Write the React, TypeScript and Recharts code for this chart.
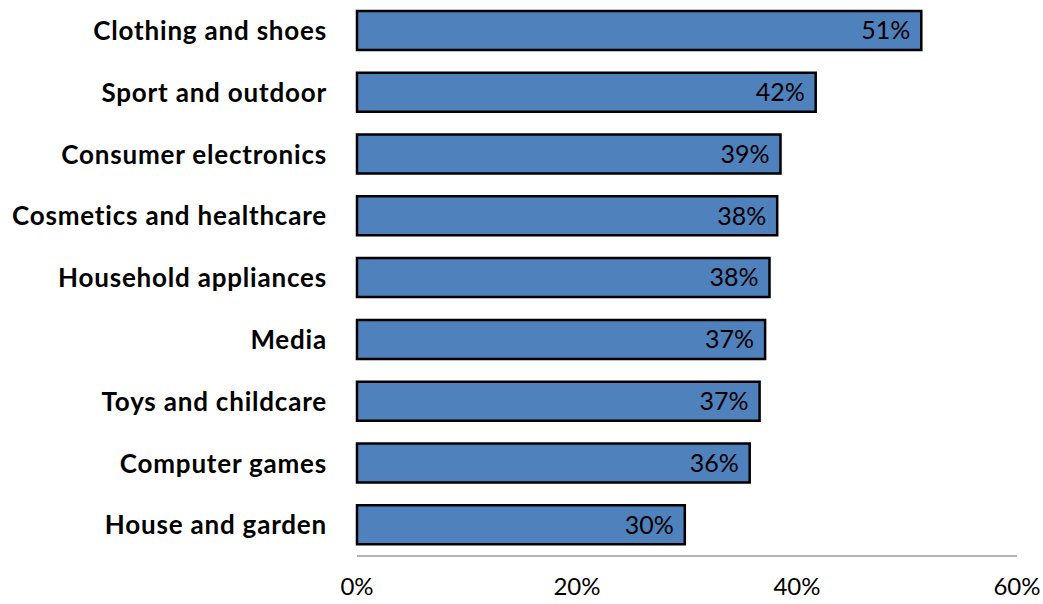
import React from 'react';
import { BarChart, Bar, XAxis, YAxis, LabelList } from 'recharts';

const categories = [
  'Clothing and shoes',
  'Sport and outdoor',
  'Consumer electronics',
  'Cosmetics and healthcare',
  'Household appliances',
  'Media',
  'Toys and childcare',
  'Computer games',
  'House and garden',
];
const shares = [51.3, 41.7, 38.5, 38.2, 37.5, 37.1, 36.6, 35.7, 29.8];
const xTicks = [0, 20, 40, 60];

const data = categories.map((name, i) => ({ name, value: shares[i] }));

const FONT = 'Lato, "Liberation Sans", sans-serif';

const App: React.FC = () => {
  return (
    <div style={{ position: 'absolute', left: 0, top: 0, background: '#fff' }}>
      <BarChart
        width={1043}
        height={604}
        data={data}
        layout="vertical"
        margin={{ top: 0, right: 26, bottom: 0, left: 0 }}
      >
        <XAxis
          type="number"
          domain={[0, 60]}
          ticks={xTicks}
          tickFormatter={(v: number) => `${v}%`}
          axisLine={{ stroke: '#9a9a9a', strokeWidth: 1.5 }}
          tickLine={false}
          tickSize={0}
          tickMargin={22}
          height={48}
          tick={{ fill: '#000', fontSize: 24, fontFamily: FONT }}
        />
        <YAxis
          type="category"
          dataKey="name"
          width={357}
          axisLine={false}
          tickLine={false}
          tickSize={0}
          tickMargin={30}
          tick={{ fill: '#000', fontSize: 26, fontWeight: 700, fontFamily: FONT, letterSpacing: 0.8 }}
        />
        <Bar dataKey="value" barSize={39} fill="#4F81BD" stroke="#000" strokeWidth={2.5} isAnimationActive={false}>
          <LabelList
            dataKey="value"
            position="insideRight"
            offset={11}
            formatter={(v: number) => `${Math.round(v)}%`}
            style={{ fill: '#000', fontSize: 25, fontFamily: FONT }}
          />
        </Bar>
      </BarChart>
    </div>
  );
};

export default App;
